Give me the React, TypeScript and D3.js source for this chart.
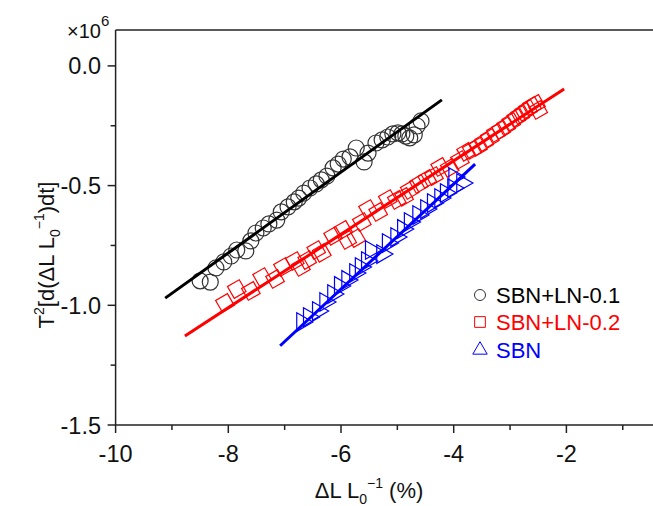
import React from "react";
import * as d3 from "d3";

// Strain rate data (x: ΔL/L0 in %, y: T²·d(ΔL/L0)/dt in units of 1e6)
const sbnLn01X = [-8.5, -8.32, -8.22, -8.08, -7.95, -7.85, -7.69, -7.6, -7.51, -7.38, -7.28, -7.14, -7.06, -6.94, -6.83, -6.75, -6.66, -6.55, -6.44, -6.35, -6.25, -6.14, -6.05, -5.96, -5.84, -5.73, -5.59, -5.52, -5.38, -5.27, -5.17, -5.08, -4.99, -4.92, -4.85, -4.78, -4.7, -4.65, -4.58];
const sbnLn01Y = [-0.898, -0.903, -0.844, -0.819, -0.794, -0.769, -0.773, -0.731, -0.698, -0.677, -0.66, -0.644, -0.61, -0.589, -0.568, -0.552, -0.531, -0.51, -0.493, -0.476, -0.46, -0.426, -0.41, -0.389, -0.38, -0.343, -0.401, -0.364, -0.322, -0.309, -0.297, -0.284, -0.28, -0.284, -0.293, -0.301, -0.288, -0.251, -0.23];

const sbnLn02X = [-8.06, -7.85, -7.6, -7.4, -7.17, -7.03, -6.82, -6.71, -6.6, -6.44, -6.34, -6.14, -5.96, -5.89, -5.73, -5.63, -5.52, -5.34, -5.17, -5.01, -4.88, -4.78, -4.62, -4.47, -4.35, -4.24, -4.07, -3.89, -3.78, -3.68, -3.57, -3.46, -3.36, -3.25, -3.16, -3.07, -2.98, -2.89, -2.82, -2.75, -2.68, -2.61, -2.54, -2.5];
const sbnLn02Y = [-0.99, -0.932, -0.94, -0.882, -0.89, -0.84, -0.815, -0.84, -0.811, -0.769, -0.781, -0.71, -0.685, -0.727, -0.719, -0.652, -0.598, -0.61, -0.556, -0.56, -0.547, -0.518, -0.493, -0.472, -0.46, -0.422, -0.426, -0.393, -0.359, -0.351, -0.338, -0.318, -0.301, -0.28, -0.267, -0.251, -0.234, -0.217, -0.205, -0.192, -0.18, -0.167, -0.159, -0.184];

const sbnX = [-6.69, -6.57, -6.41, -6.28, -6.14, -6.02, -5.89, -5.75, -5.65, -5.54, -5.47, -5.27, -5.17, -5.02, -4.9, -4.78, -4.63, -4.49, -4.37, -4.24, -4.14, -4.01, -3.99, -3.85];
const sbnY = [-1.07, -1.049, -1.024, -0.986, -0.953, -0.919, -0.894, -0.865, -0.84, -0.815, -0.769, -0.786, -0.74, -0.715, -0.681, -0.652, -0.623, -0.598, -0.573, -0.552, -0.531, -0.51, -0.464, -0.489];

// Linear fits: [start, end] points
const fitLn01 = [[-9.12, -0.97], [-4.21, -0.142]];
const fitLn02 = [[-8.77, -1.128], [-2.04, -0.096]];
const fitSbn = [[-7.08, -1.169], [-3.62, -0.41]];

const xMajor = [-10, -8, -6, -4, -2];
const xMinor = [-9, -7, -5, -3, -1];
const yMajor = [0, -0.5, -1.0, -1.5];
const yMinor = [-0.25, -0.75, -1.25];

const legendLabels = ["SBN+LN-0.1", "SBN+LN-0.2", "SBN"];

const W = 653;
const H = 506;
const FONT = "'Liberation Sans', Arial, Helvetica, sans-serif";

export default function App() {
  const x = d3.scaleLinear().domain([-10, 0]).range([115.6, 679.1]);
  const y = d3.scaleLinear().domain([-1.5, 0.15]).range([425, 30]);
  const line = d3.line<number[]>().x((d) => x(d[0])).y((d) => y(d[1]));

  const squarePath = d3.symbol().type(d3.symbolSquare).size(185)() as string;
  const trianglePath = d3.symbol().type(d3.symbolTriangle).size(150)() as string;
  const legendSquare = d3.symbol().type(d3.symbolSquare).size(115)() as string;
  const legendTriangle = d3.symbol().type(d3.symbolTriangle).size(90)() as string;

  const x0 = x(-10);
  const yBottom = y(-1.5);
  const yTop = y(0.15);

  const black = "#000000";
  const red = "#ff0000";
  const blue = "#0000ff";

  return (
    <svg
      width={W}
      height={H}
      style={{ position: "absolute", left: 0, top: 0, background: "#fff" }}
      fontFamily={FONT}
    >
      <rect x={0} y={0} width={W} height={H} fill="#fff" />

      {/* markers */}
      <g fill="none" strokeWidth={1.2}>
        {sbnLn01X.map((v, i) => (
          <circle key={"c" + i} cx={x(v)} cy={y(sbnLn01Y[i])} r={8} stroke="#333" />
        ))}
        {sbnLn02X.map((v, i) => (
          <path
            key={"s" + i}
            d={squarePath}
            transform={`translate(${x(v)},${y(sbnLn02Y[i])}) rotate(-30)`}
            stroke={red}
          />
        ))}
        {sbnX.map((v, i) => (
          <path
            key={"t" + i}
            d={trianglePath}
            transform={`translate(${x(v)},${y(sbnY[i])}) rotate(-30)`}
            stroke={blue}
          />
        ))}
      </g>

      {/* fit lines */}
      <path d={line(fitLn01) as string} stroke={black} strokeWidth={3} fill="none" />
      <path d={line(fitLn02) as string} stroke={red} strokeWidth={3} fill="none" />
      <path d={line(fitSbn) as string} stroke={blue} strokeWidth={3} fill="none" />

      {/* frame */}
      <g stroke="#222" strokeWidth={1.5} fill="none">
        <line x1={x0} x2={W + 5} y1={yBottom} y2={yBottom} />
        <line x1={x0} x2={W + 5} y1={yTop} y2={yTop} />
        <line x1={x0} x2={x0} y1={yTop} y2={yBottom} />
      </g>

      {/* ticks */}
      <g stroke="#222" strokeWidth={1.5}>
        {xMajor.map((v) => (
          <line key={"xM" + v} x1={x(v)} x2={x(v)} y1={yBottom} y2={yBottom + 8} />
        ))}
        {xMinor.map((v) => (
          <line key={"xm" + v} x1={x(v)} x2={x(v)} y1={yBottom} y2={yBottom + 5} />
        ))}
        {yMajor.map((v) => (
          <line key={"yM" + v} x1={x0 - 8} x2={x0} y1={y(v)} y2={y(v)} />
        ))}
        {yMinor.map((v) => (
          <line key={"ym" + v} x1={x0 - 5} x2={x0} y1={y(v)} y2={y(v)} />
        ))}
      </g>

      <g fontSize={23.5} fill="#111">
        {xMajor.map((v) => (
          <text key={"xl" + v} x={x(v)} y={yBottom + 37} textAnchor="middle">
            {String(v)}
          </text>
        ))}
        {yMajor.map((v) => (
          <text key={"yl" + v} x={101} y={y(v) + 8.5} textAnchor="end">
            {v.toFixed(1)}
          </text>
        ))}
      </g>

      {/* multiplier */}
      <text x={67} y={38} fontSize={20} fill="#111">
        ×10
        <tspan fontSize={15} dy={-12}>6</tspan>
      </text>

      {/* x title */}
      <text x={369} y={498} fontSize={22} fill="#111" textAnchor="middle">
        ΔL L
        <tspan fontSize={14} dy={6}>0</tspan>
        <tspan fontSize={14} dy={-16}>−1</tspan>
        <tspan dy={10}> (%)</tspan>
      </text>

      {/* y title */}
      <text
        transform="translate(54,255) rotate(-90)"
        fontSize={22}
        fill="#111"
        textAnchor="middle"
      >
        T
        <tspan fontSize={14} dy={-10}>2</tspan>
        <tspan dy={10}>[d(ΔL L</tspan>
        <tspan fontSize={14} dy={6}>0</tspan>
        <tspan fontSize={14} dy={-16}>−1</tspan>
        <tspan dy={10}>)dt]</tspan>
      </text>

      {/* legend */}
      <g fontSize={22}>
        <circle cx={480} cy={295} r={5.5} fill="none" stroke="#333" strokeWidth={1} />
        <text x={496} y={302.5} fill={black}>{legendLabels[0]}</text>
        <path d={legendSquare} transform="translate(480,322)" fill="none" stroke={red} strokeWidth={1} />
        <text x={496} y={329.5} fill={red}>{legendLabels[1]}</text>
        <path d={legendTriangle} transform="translate(480,350)" fill="none" stroke={blue} strokeWidth={1} />
        <text x={496} y={357.5} fill={blue}>{legendLabels[2]}</text>
      </g>
    </svg>
  );
}
